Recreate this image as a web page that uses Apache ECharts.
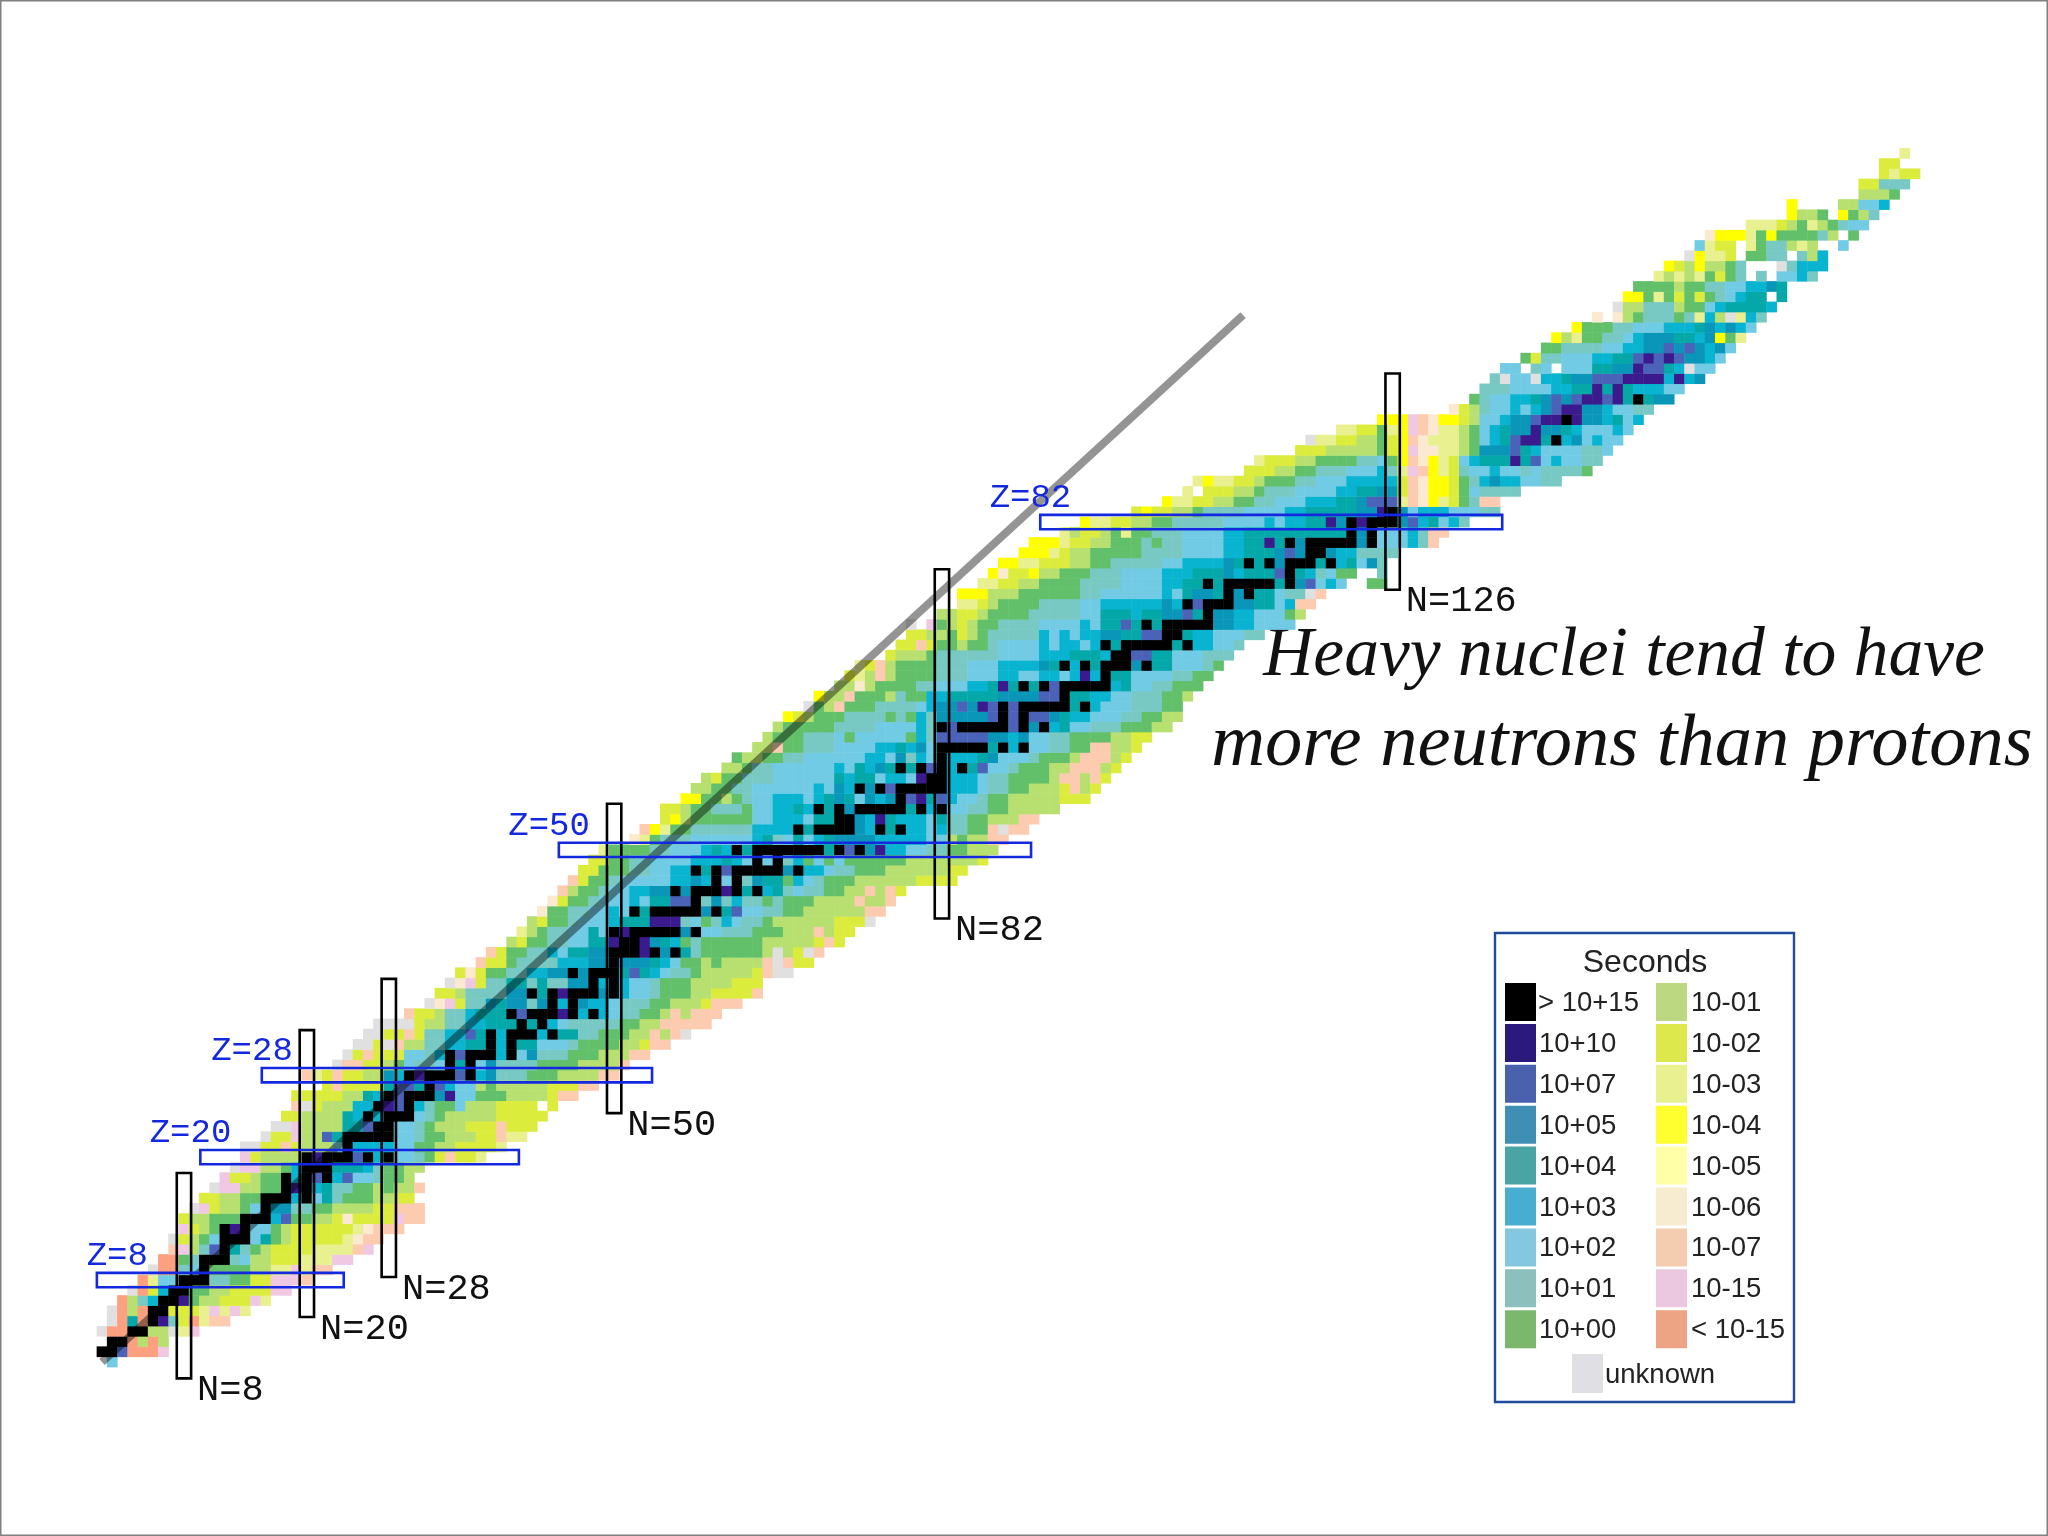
<!DOCTYPE html>
<html><head><meta charset="utf-8">
<style>html,body{margin:0;padding:0;background:#fff}#c{width:2048px;height:1536px}</style>
<script src="https://cdn.jsdelivr.net/npm/echarts@6/dist/echarts.min.js"></script>
</head><body><div id="c"></div>
<script>
// half-life classes (one letter per class)
const classCodes = "ABCDEFGHIJKLMOPQRSU";
const cellColors = ["#000000","#3a1a8c","#4a62b8","#0a96b8","#05a8a8","#08b4d0","#72cbe4","#78c8c4","#62c06a","#b8e070","#dcec3c","#e8f090","#ffff00","#ffff99","#fbe9d0","#fccbb0","#f0c8e4","#fca080","#e0e0e0"];
const legendColors = ["#000000","#2b1a7c","#4a62ae","#3f8fb4","#4aa4a4","#48aed0","#84c8e0","#8cc0bc","#7cb86c","#bcd880","#dce84c","#e8f090","#ffff30","#ffffa8","#f8ecd0","#f4ccb0","#ecc8e0","#eca484","#e0e0e4"];
const legendLabels = ["> 10+15","10+10","10+07","10+05","10+04","10+03","10+02","10+01","10+00","10-01","10-02","10-03","10-04","10-05","10-06","10-07","10-15","< 10-15","unknown"];
// nuclide rows, index = Z: [first N, class of each successive N]
const nuclideRows = [
[1,"G"],
[0,"AACSSSR"],
[1,"AASJSJ"],
[0,"USSAAJJULR"],
[1,"USESABHKSLQQ"],
[1,"USJSAAKKKLRLRL"],
[2,"SJHFAABIJJKKKRL"],
[3,"USKFAAIIJJKKKKRR"],
[4,"SLGGAAAHHIIKKRRRQ"],
[5,"USSHGAIIIIJJLLRLQQ"],
[6,"SSIHAAAHGJJKKKLLLRR"],
[7,"QRJHCAEHIJKKKKLLLLQR"],
[7,"UKJIGAAAGEIJKKKKKLPQQ"],
[8,"RKJIABAGGIJKKKKKKLPQQQ"],
[8,"KJJIIIAAAFCIIJJKPKKKKRQQ"],
[9,"URKJJIGADDHHIIJJJJKKQQQ"],
[10,"KKJJIIAAAFAGEHIIIJJKK"],
[11,"URRJJIIABAFEHHIIJIJJQ"],
[12,"RKKJIIAFACAFCGGHIIJ"],
[13,"URRJJIFAAAEEEFHIIJJ"],
[14,"RKJJJJABAAACAFAGGHIKQKKL"],
[14,"UUKKQKJJJHAFFFFGGIIJJKKKKL"],
[16,"UKKRJJCEAAAAAGGHIIJJJKKQLL"],
[17,"UURJJJJEECAAGGHIJJJKKKQKKK"],
[18,"KKJJJJEFAFAAAGHIJJJJJKKKKK"],
[19,"QUKJJJFFABCAFHIIGJJJKKKK.K"],
[19,"KKKKKJJEFACAAADBGGIIIJJJJKQQ"],
[22,"KQKKKKECCEACFGGJIJJJJJKKKQQ"],
[20,"QLKQKKJJDFABAAACAFDHHHIIIJJJJQQ"],
[23,"UQQKKJIGHHGAEAGDHHHHIIIIJJJJQ"],
[24,"UKQKKKGGHFACAAAFAGDHHHIIIJJJQQ"],
[25,"UUKUQJJHHFFEEAFAEEGGGHIIIIJJKQQ"],
[26,"UUKKQKHHFFCEAFAAAFAEEHHIIIJJQJQU"],
[27,"UUUUKJJHHFFEEEAEAFGHHHHHIIJJQQQQQ"],
[30,"QKKJHHFEEEACAAABAFAFGHHIIJQJQQQ"],
[32,"UPRKHHDEDDHDAFADFFGHHHIIJJJKQQQ"],
[33,"KKJHHHHDDAEABAAADAFGGHIIIJJKKKKQ"],
[34,"UPRKHHEEHEHHDDAFAFGGHIIIJJJJKKK"],
[35,"KPKIIHHFFDDADAAAECEFGHHIJJJJJKQUU"],
[37,"QKKIHHHHFFFDDADDDEFGIIJIJJJJQUQKK"],
[38,"QKIIHHFGEEDDAAABADAEHIIIIIIJUJKUQ"],
[40,"JKIIHHGGEEBAABDEFIHIIIIIIJJJJJKQK"],
[41,"LJIHHGGEGABAAAAADAGGHHHIIIJJJQJKK"],
[42,"JKIIHGGGFEEEBBBHGIHFGHHIJJJJJJKKKU"],
[43,"PIIHHGGFGAEAAAAADAECGGHHIIJJJJJJQQ"],
[44,"PKIIHGGGFGEECCAHDHFHHIHIIIJJJJQJJQ"],
[45,"QJIIHGGFFDDADAAABAEAFEHGHHIIJJQJQK"],
[46,"QKIIHGGGGGFFDFAGAHDEEIFGHIIIJJJJJJKKKK"],
[47,"KKIIIHHGGFFAEACAAAAADAFFGHHIIIJJJJJJKK"],
[48,"KKIIHHGGGGFFFEFGAGAHFIGIGIIIIIIJJJJJJJK"],
[49,"LIIIIHHGGGFEFAEAAAAAAAEACADBFFGGHHIIJJJ"],
[52,"PLIHHHGGGGGGFEHGEGFEDDDDFFFFFGGJIJJQQ"],
[53,"QMLIIHHHHHHFFFFAEAAAADFAEAFFGFHHIIQUQQ"],
[55,"KMJIIIIIIGGFFFGEEAADFBEFFFGEHHIIJJJQQ"],
[55,"KKJIIHHHIGGFFEFAEADAAAAAEAFAGGHHIIJJJJJ"],
[57,"MMIIJIHGGFFFGFEDEGDFDACBECFGGHIIJJJJJKKK"],
[58,"JJIIHHGGGGGGFGDFADACAAAAAFFFGHHIIJJJKQJK"],
[59,"JKIIHHHGGGGGGEFEEGFFGBAAFFFGHHIIIIJQQJQK"],
[61,"JJIHHGGGGGGFGEFDEAEACAFAECGGHIIIJJQQQJK"],
[62,"IJJIIHHGGGGGGFFGDHFGAFFFEDGGGHIIIJQQQJK"],
[64,"JJQIIHHHGGGGFFEFDGAAAAAEAFAGGHHIIQQJJK"],
[65,"JIIIHHHGIGGGGGIFHCCCCCDDFDGGHHIIIIJJKK"],
[66,"JIIIIIHHHHGGGGFHACAAAAACADAFEGGHHHIIIJJ"],
[67,"MKJIIIHHHHIHIFHDDDDDCACACCDEFFGGGHHIIJJ"],
[69,"UIJQIIIHHHHGFDDCDBCACAAAAAEAFGGGHHHII"],
[70,"MJJQIIIJHIIFFEEEEEDDDDCCAEEFFGGHHHIIJ"],
[72,"JJPJIIIIHHGGGFFEBEAEACAAAAAFEGGHHIII"],
[73,"KLJQJIIIIHHHGGGFFGGFFGFBFAEEGGGGHHII"],
[74,"LKQJIIIIHHHGGGFFFFDEAFAEAAADAEEGGGHI"],
[77,"KJJJIHHHHHHGGGGFFFEEEFAACCEEGGGHHH"],
[78,"KKQKIIJIIHGGGGFGFFGFAEAAAAAEAFFGGH"],
[79,"KKJJIKJIHHHHHFGFGFFDDEECCAAEFFGGGHH"],
[79,"U.RIJKJIIHHHHGGGGFGEECEAEAAAAADDFFGGGG"],
[82,"JJKKJIIIIHHHHHGGEEEFEEDDCEADDFFGGGIJ"],
[84,"LLKJIIIIHHHHGGFFFFFFDFACAAADDEEGFQQ"],
[84,"MMMJJJIIIIIIHHGGGGGGFGEDDEADAEEGHHUQ"],
[86,"LLKKJJIIIIHHHHGGGGFFEEAEAAAAAEADCGFG..II"],
[87,"MPKKMJJIIIHHHGGGGFFFEEEDFEEECAEFHGII..H"],
[88,"MMLLKKKJJIIHHHHHGGFFFFDEAEADAAAEAFEGDH"],
[90,"MMMLKJJIIIIIHHHHGGGGFFEEEDCDAADFFHHHH"],
[91,"MMMLKKJJIIIHIHHGGGGFFEEBEADAAAAADAGGGFHQ"],
[94,"LJKKJILIIHHHGGGGFFEEEEEEEEEEADAGGGFHQQ"],
[96,"MLLKKJJIIHHHHHGGGGFGFFEEBDABAAADCFEGFH"],
[101,"KMKKJJIHHHHGGGGFFEEEEEDDBADGFFFGGGHH"],
[104,"MLLKKJJIIHHGGGFFFEEDCCCLQPMLKIHQQ"],
[106,"L.KKKJJIHHHGGGGFFEEDDKQPMMKIGHHHH"],
[107,"LMLLKKJIIIHHGGGFFFFFKQPMMKIHFDFFGGHH"],
[112,"KKKJJIIHHHGGGFHLRQMLKHGGFGGHGHHHHI"],
[113,"LKKKJJIIIIHHGIMQPMLKGFEEEBECGFGGHH"],
[117,"KKKJJJJJIKMRPPLLJIDDDCEFGGGGHHG"],
[118,"ULLKKJJIKMQPLLLJIGFECBBEAFDGFGG"],
[121,"LLKKILMRQPLLJIGFEDDBDDEFGGGFG"],
[125,"MMMRQPMMKJGGFDDCBBABDDFEGF"],
[132,"PKJHGGFGFDCBBDDFGGHH"],
[134,"IHGGFFEDCDCBBCBEAEDD"],
[135,"HHHGGGGFFEEBEBEFFFGG"],
[136,"HUGGUFFEDDCCCBBBBFBFD"],
[137,"GG.HG.GGGEEDDBCCEFUGG"],
[139,"IKHHGGGFFEECBCBCDDFG"],
[141,"IIHHHHGGFFDDCDCDFDG"],
[142,"MJLIIHHGFDDDEEFDMIL"],
[144,"MIIIHHGGGFFFEDFDFG"],
[146,"P.PJIHHHIHLFJULFH"],
[148,"UJJHHHJIIGFEEEEF"],
[149,"MMILIKIKIHGFEE.E"],
[150,"IIIIJIIHHGGFFDE"],
[152,"LJLJLIKIH.H.GGFH"],
[153,"MKJMJJIH...UHFFF"],
[155,"UMLLK.IIHH.HJF"],
[156,"GLKK.LIHHJLJ..G"],
[157,"PMMMLIMIIIIHJ.I"],
[161,"LLLKJILJIHGG"],
[165,"MJJI.MIJH"],
[165,"M....JJGGF"],
[172,"JJJI"],
[172,"KKHHH"],
[174,"KLKK"],
[174,"KK"],
[176,"L"]
];
// magic-number bars
const magicZ = [8,20,28,50,82];
const magicZFromN = [-0.5,9.6,15.6,44.6,91.6];
const magicZToN = [23.6,40.7,53.7,90.7,136.7];
const magicN = [8,20,28,50,82,126];
const magicNFromZ = [-1.6,4.4,8.3,24.3,43.3,75.4];
const magicNToZ = [18.45,32.4,37.4,54.5,77.4,96.5];
// the grey reference line, N and Z at its ends
const lineN = [0,111.4];
const lineZ = [0,102.2];
const noteLines = ["Heavy nuclei tend to have","more neutrons than protons"];

const NMIN=-1, NMAX=179, ZMIN=-2, ZMAX=119, CELL=10.243;
const nCats=[], zCats=[];
for(let n=NMIN;n<=NMAX;n++) nCats.push(String(n));
for(let z=ZMIN;z<=ZMAX;z++) zCats.push(String(z));
const cells=[];
nuclideRows.forEach((row,z)=>{
  for(let i=0;i<row[1].length;i++){
    const k=classCodes.indexOf(row[1][i]);
    if(k>=0) cells.push([row[0]+i-NMIN,z-ZMIN,k]);
  }
});
const zBars=magicZ.map((z,i)=>[magicZFromN[i],magicZToN[i],z-0.7,z+0.7,"Z="+z]);
const nBars=magicN.map((n,i)=>[n-0.7,n+0.7,magicNFromZ[i],magicNToZ[i],"N="+n]);
function bar(api,color){
  const a=api.coord([api.value(0),api.value(3)]), b=api.coord([api.value(1),api.value(2)]);
  return {type:'rect',shape:{x:a[0],y:a[1],width:b[0]-a[0],height:b[1]-a[1]},
    style:{fill:'none',stroke:color,lineWidth:2.6}};
}
function renderZ(p,api){
  const a=api.coord([api.value(0),api.value(3)]);
  const t=zBars[p.dataIndex][4];
  return {type:'group',children:[bar(api,'#1428e0'),
    {type:'text',style:{text:t,x:a[0]+(t.length===3?51:31),y:a[1]-17,fill:'#1428e0',font:'34px "Liberation Mono"',align:'right',verticalAlign:'middle'}}]};
}
function renderN(p,api){
  const b=api.coord([api.value(1),api.value(2)]);
  return {type:'group',children:[bar(api,'#000000'),
    {type:'text',style:{text:nBars[p.dataIndex][4],x:b[0]+6,y:b[1]+12,fill:'#111',font:'37px "Liberation Mono"',align:'left',verticalAlign:'middle'}}]};
}
// legend box
const lg=[];
lg.push({type:'rect',shape:{x:1495,y:933,width:299,height:469},style:{fill:'#fff',stroke:'#1f4a9e',lineWidth:2.4}});
lg.push({type:'text',style:{text:'Seconds',x:1645,y:963,fill:'#222',font:'32px "Liberation Sans"',align:'center',verticalAlign:'middle'}});
legendLabels.forEach((t,i)=>{
  let x,y,w=31,h=38,tx;
  if(i<9){x=1505;y=983+i*40.9;tx=1539;}
  else if(i<18){x=1656;y=983+(i-9)*40.9;tx=1691;}
  else{x=1572;y=1354;h=39;tx=1605;}
  if(i===0) tx=1538;
  lg.push({type:'rect',shape:{x,y,width:w,height:h},style:{fill:legendColors[i]}});
  lg.push({type:'text',style:{text:t,x:tx,y:y+h/2+1.5,fill:'#222',font:'27.5px "Liberation Sans"',align:'left',verticalAlign:'middle'}});
});
const frame={type:'rect',shape:{x:0.5,y:0.5,width:2047,height:1535},style:{fill:'none',stroke:'#808080',lineWidth:2}};
const notes=[
 {type:'text',style:{text:noteLines[0],x:1624,y:657,fill:'#111',font:'italic 69.5px "Liberation Serif"',align:'center',verticalAlign:'middle'}},
 {type:'text',style:{text:noteLines[1],x:1622,y:745,fill:'#111',font:'italic 74.5px "Liberation Serif"',align:'center',verticalAlign:'middle'}}
];
const chart=echarts.init(document.getElementById('c'),null,{renderer:'canvas',width:2048,height:1536});
const left=102+(NMIN-0.5)*CELL, gw=(NMAX-NMIN+1)*CELL;
const gBottom=1362-(ZMIN-0.5)*CELL, gh=(ZMAX-ZMIN+1)*CELL;
chart.setOption({
  animation:false,backgroundColor:'#ffffff',
  grid:{left:left,top:gBottom-gh,width:gw,height:gh,containLabel:false},
  xAxis:[{type:'category',data:nCats,show:false},{type:'value',min:NMIN-0.5,max:NMAX+0.5,show:false}],
  yAxis:[{type:'category',data:zCats,show:false},{type:'value',min:ZMIN-0.5,max:ZMAX+0.5,show:false}],
  visualMap:{type:'piecewise',show:false,dimension:2,seriesIndex:0,
    pieces:cellColors.map((c,i)=>({value:i,color:c}))},
  series:[
   {type:'heatmap',data:cells,xAxisIndex:0,yAxisIndex:0,silent:true,progressive:0,z:1,emphasis:{disabled:true}},
   {type:'line',xAxisIndex:1,yAxisIndex:1,silent:true,symbol:'none',z:2,clip:false,
    data:lineN.map((n,i)=>[n,lineZ[i]]),lineStyle:{color:'rgba(0,0,0,0.42)',width:8}},
   {type:'custom',xAxisIndex:1,yAxisIndex:1,silent:true,z:3,clip:false,data:nBars.map(b=>b.slice(0,4)),renderItem:renderN,encode:{x:[0,1],y:[2,3]}},
   {type:'custom',xAxisIndex:1,yAxisIndex:1,silent:true,z:4,clip:false,data:zBars.map(b=>b.slice(0,4)),renderItem:renderZ,encode:{x:[0,1],y:[2,3]}}
  ],
  graphic:[frame].concat(lg).concat(notes)
});
</script></body></html>
